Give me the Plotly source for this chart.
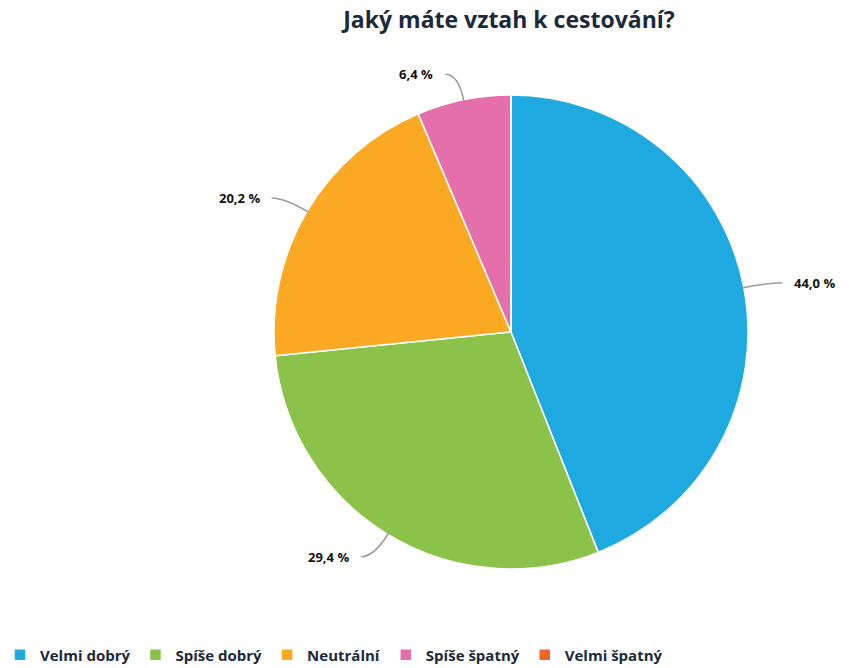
import math
import plotly.graph_objects as go

# Survey answers and shares (in %)
categories = ["Velmi dobrý", "Spíše dobrý", "Neutrální", "Spíše špatný", "Velmi špatný"]
shares = [44.0, 29.4, 20.2, 6.4, 0.0]
colors = ["#1EA9E1", "#8BC34A", "#FBA922", "#E56FAA", "#F26522"]
title_text = "Jaký máte vztah k cestování?"

W, H = 849, 668
# Pie placement in pixels
CX, CY, R = 511, 332, 237

FONT = "Open Sans"
NAVY = "#1B2A3A"

fig = go.Figure()
fig.add_trace(go.Pie(
    labels=categories,
    values=shares,
    marker=dict(colors=colors, line=dict(color="white", width=1.5)),
    sort=False,
    direction="clockwise",
    rotation=0,
    textinfo="none",
    hoverinfo="label+percent",
    domain=dict(x=[(CX - R) / W, (CX + R) / W], y=[1 - (CY + R) / H, 1 - (CY - R) / H]),
))


def px(x):
    return x / W


def py(y):
    return 1 - y / H


# Outside labels with elbow connectors, placed from the slice mid-angles
total = sum(shares)
cum = 0.0
shapes = []
annotations = []
for val in shares:
    if val <= 0:
        cum += val
        continue
    mid = (cum + val / 2) / total * 2 * math.pi
    cum += val
    dx, dy = math.sin(mid), -math.cos(mid)
    x0, y0 = CX + (R - 2) * dx, CY + (R - 2) * dy
    x1, y1 = CX + (R + 26) * dx, CY + (R + 26) * dy
    side = 1 if dx >= 0 else -1
    x2, y2 = x1 + side * 13, y1
    shapes.append(dict(
        type="path", xref="paper", yref="paper",
        path=f"M {px(x0)},{py(y0)} Q {px(x1)},{py(y1)} {px(x2)},{py(y2)}",
        line=dict(color="#9A9A9A", width=1.5),
    ))
    annotations.append(dict(
        x=px(x2 + side * 10), y=py(y2), xref="paper", yref="paper",
        text=f"<b>{val:.1f} %</b>".replace(".", ","),
        showarrow=False,
        xanchor="left" if side > 0 else "right", yanchor="middle",
        font=dict(family=FONT, size=13, color="#111111"),
    ))

fig.update_layout(
    width=W, height=H,
    margin=dict(l=0, r=0, t=0, b=0, autoexpand=False),
    paper_bgcolor="white",
    plot_bgcolor="white",
    title=dict(
        text=f"<b>{title_text}</b>",
        x=px(CX - 2), xanchor="center", y=py(20), yanchor="middle",
        font=dict(family=FONT, size=23, color=NAVY),
    ),
    shapes=shapes,
    annotations=annotations,
    legend=dict(
        orientation="h",
        x=0, xanchor="left",
        y=py(655), yanchor="middle",
        font=dict(family=FONT, size=15, color=NAVY, weight="bold"),
        itemwidth=30,
        traceorder="normal",
    ),
)

fig.write_html("out.html")
